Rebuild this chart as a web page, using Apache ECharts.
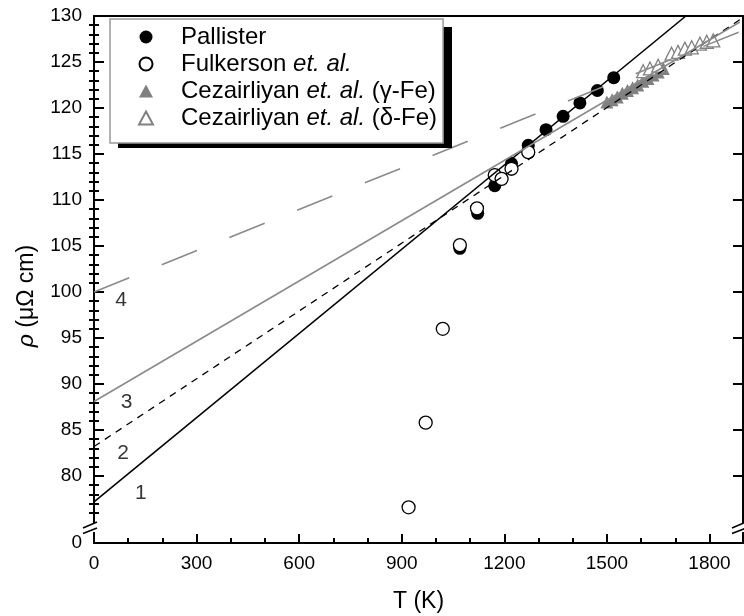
<!DOCTYPE html>
<html><head><meta charset="utf-8">
<script src="https://cdn.jsdelivr.net/npm/echarts@6/dist/echarts.min.js"></script>
<style>html,body{margin:0;padding:0;background:#fff}#c{width:744px;height:616px}</style>
</head><body><div id="c"></div>
<script>
// ---- data ----
const pallisterT   = [1070, 1122, 1172, 1221, 1270, 1322, 1372, 1421, 1472, 1520];
const pallisterRho = [104.75, 108.55, 111.55, 113.96, 115.95, 117.65, 119.1, 120.55, 121.9, 123.3];

const fulkersonT   = [920, 970, 1020, 1070, 1120, 1172, 1192, 1221, 1270];
const fulkersonRho = [76.6, 85.8, 96.0, 105.1, 109.1, 112.7, 112.3, 113.4, 115.2];

const gammaT   = [1500, 1515, 1530, 1545, 1560, 1575, 1590, 1605, 1620, 1635, 1650, 1665];
const gammaRho = [120.65, 120.9, 121.2, 121.6, 121.9, 122.2, 122.5, 122.9, 123.2, 123.6, 123.9, 124.3];

const deltaT   = [1606, 1626, 1650, 1689, 1708, 1728, 1748, 1772, 1792, 1811];
const deltaRho = [124.0, 124.3, 124.6, 125.9, 126.1, 126.45, 126.6, 127.0, 127.2, 127.35];

// fitted lines (end points)
const line1 = [[0, 77.2], [1731, 130]];
const line2 = [[0, 83.2], [1889, 129.6]];
const line3 = [[0, 88.1], [1889, 129.35]];
const line4 = [[0, 100.0], [1889, 128.3]];

const lineLabels = ['1', '2', '3', '4'];
const lineLabelT = [137, 85, 95, 79];
const lineLabelRho = [78.1, 82.5, 88.0, 99.1];

const xMajorTicks = [0, 300, 600, 900, 1200, 1500, 1800];
const xMinorTicks = [100, 200, 400, 500, 700, 800, 1000, 1100, 1300, 1400, 1600, 1700];
const yMajorTicks = [80, 85, 90, 95, 100, 105, 110, 115, 120, 125, 130];
const yMinorTicks = [];
for (let v = 76; v < 130; v++) if (v % 5 !== 0) yMinorTicks.push(v);
const yBreakValue = 74.4;   // where the axis is broken
const xRange = [0, 1898];
const yRange = [72.72, 130]; // bottom of the axis is labelled "0" (broken axis)

const legendNames = ['Pallister', 'Fulkerson et. al.', 'Cezairliyan et. al. (γ-Fe)', 'Cezairliyan et. al. (δ-Fe)'];

// ---- chart ----
const FONT = 'Liberation Sans, Arial, sans-serif';
const zip = (a, b) => a.map((v, i) => [v, b[i]]);
const chart = echarts.init(document.getElementById('c'), null, {renderer: 'canvas'});

const baseX = {type: 'value', min: xRange[0], max: xRange[1], splitLine: {show: false}};
const baseY = {type: 'value', min: yRange[0], max: yRange[1], splitLine: {show: false}};
const axisLineStyle = {color: '#000', width: 2};

// legend box layout
const LG = {left: 110, top: 19, width: 334, height: 121, shadow: 8};

const option = {
  animation: false,
  backgroundColor: '#fff',
  grid: {left: 94, right: 1, top: 16, bottom: 73, containLabel: false, outerBoundsMode: 'none'},
  xAxis: [
    Object.assign({}, baseX, {
      position: 'bottom',
      axisLine: {show: true, onZero: false, lineStyle: axisLineStyle},
      axisTick: {show: true, inside: true, length: 9, lineStyle: {color: '#000', width: 2}, customValues: xMajorTicks},
      axisLabel: {show: true, fontSize: 19, color: '#000', fontFamily: FONT, margin: 11, customValues: xMajorTicks,
        formatter: v => String(v)},
      name: 'T (K)', nameLocation: 'middle', nameGap: 47,
      nameTextStyle: {fontSize: 23, color: '#000', fontFamily: FONT}
    }),
    Object.assign({}, baseX, {
      position: 'bottom',
      axisLine: {show: false},
      axisTick: {show: true, inside: true, length: 5, lineStyle: {color: '#000', width: 2}, customValues: xMinorTicks},
      axisLabel: {show: false}
    }),
    Object.assign({}, baseX, {
      position: 'top',
      axisLine: {show: true, onZero: false, lineStyle: axisLineStyle},
      axisTick: {show: false}, axisLabel: {show: false}
    })
  ],
  yAxis: [
    Object.assign({}, baseY, {
      position: 'left',
      axisLine: {show: true, onZero: false, lineStyle: axisLineStyle},
      axisTick: {show: true, inside: true, length: 10, lineStyle: {color: '#000', width: 2}, customValues: yMajorTicks},
      axisLabel: {show: true, fontSize: 19, color: '#000', fontFamily: FONT, margin: 12,
        customValues: [yRange[0]].concat(yMajorTicks),
        formatter: v => (Math.abs(v - yRange[0]) < 1e-6 ? '0' : String(v))}
    }),
    Object.assign({}, baseY, {
      position: 'left',
      axisLine: {show: false},
      axisTick: {show: true, inside: true, length: 5, lineStyle: {color: '#000', width: 2}, customValues: yMinorTicks},
      axisLabel: {show: false}
    }),
    Object.assign({}, baseY, {
      position: 'right',
      axisLine: {show: true, onZero: false, lineStyle: axisLineStyle},
      axisTick: {show: true, inside: true, length: 10, lineStyle: {color: '#000', width: 2}, customValues: yMajorTicks},
      axisLabel: {show: false}
    }),
    Object.assign({}, baseY, {
      position: 'right',
      axisLine: {show: false},
      axisTick: {show: true, inside: true, length: 5, lineStyle: {color: '#000', width: 2}, customValues: yMinorTicks},
      axisLabel: {show: false}
    })
  ],
  legend: {
    orient: 'vertical', left: LG.left, top: LG.top,
    padding: [6, 6, 13, 28],
    itemGap: 3, itemWidth: 14, itemHeight: 13,
    backgroundColor: '#fff', borderColor: '#999', borderWidth: 1.5,
    data: legendNames,
    formatter: n => n.replace('et. al.', '{i|et. al.}'),
    textStyle: {fontSize: 24, color: '#000', fontFamily: FONT, padding: [0, 0, 0, 23],
      rich: {i: {fontSize: 24, fontStyle: 'italic', color: '#000', fontFamily: FONT}}}
  },
  series: [
    {name: legendNames[0], type: 'scatter', data: zip(pallisterT, pallisterRho), symbol: 'circle', symbolSize: 13,
      itemStyle: {color: '#000', opacity: 1}, z: 2},
    {name: legendNames[1], type: 'scatter', data: zip(fulkersonT, fulkersonRho), symbol: 'circle', symbolSize: 13,
      itemStyle: {color: '#fff', borderColor: '#000', borderWidth: 1.3, opacity: 1}, z: 2},
    {name: legendNames[2], type: 'scatter', data: zip(gammaT, gammaRho), symbol: 'triangle', symbolSize: 13,
      itemStyle: {color: '#808080', opacity: 1}, z: 2},
    {name: legendNames[3], type: 'scatter', data: zip(deltaT, deltaRho), symbol: 'triangle', symbolSize: 13,
      itemStyle: {color: '#fff', borderColor: '#808080', borderWidth: 1.3, opacity: 1}, z: 2},
    {name: 'fit1', type: 'line', data: line1, symbol: 'none', silent: true, z: 3,
      lineStyle: {color: '#000', width: 1.6}},
    {name: 'fit2', type: 'line', data: line2, symbol: 'none', silent: true, z: 3,
      lineStyle: {color: '#000', width: 1.3, type: [7, 6]}},
    {name: 'fit3', type: 'line', data: line3, symbol: 'none', silent: true, z: 3,
      lineStyle: {color: '#8a8a8a', width: 1.6}},
    {name: 'fit4', type: 'line', data: line4, symbol: 'none', silent: true, z: 3,
      lineStyle: {color: '#8a8a8a', width: 1.6, type: [38, 35]}},
    {name: 'labels', type: 'scatter', silent: true, z: 4, symbolSize: 1,
      itemStyle: {color: 'rgba(0,0,0,0)'},
      data: lineLabels.map((t, i) => [lineLabelT[i], lineLabelRho[i], t]),
      label: {show: true, position: 'inside', formatter: p => p.data[2], fontSize: 21, color: '#000', fontFamily: FONT}}
  ]
};
chart.setOption(option);

// axis breaks, legend shadow and rotated y-axis title
const yb = chart.convertToPixel({yAxisIndex: 0}, yBreakValue);
const xl = chart.convertToPixel({xAxisIndex: 0}, xRange[0]);
const xr = chart.convertToPixel({xAxisIndex: 0}, xRange[1]);
function breakMark(x) {
  return [
    {type: 'rect', shape: {x: x - 3, y: yb - 4.5, width: 6, height: 9}, style: {fill: '#fff'}, z: 100},
    {type: 'line', shape: {x1: x - 11, y1: yb + 0.5, x2: x + 3, y2: yb - 5.5}, style: {stroke: '#000', lineWidth: 1.6}, z: 101},
    {type: 'line', shape: {x1: x - 11, y1: yb + 6, x2: x + 3, y2: yb + 0.5}, style: {stroke: '#000', lineWidth: 1.6}, z: 101}
  ];
}
chart.setOption({
  graphic: breakMark(xl).concat(breakMark(xr)).concat([
    {type: 'rect', z: 3.5, silent: true,
      shape: {x: LG.left + LG.shadow, y: LG.top + LG.shadow, width: LG.width, height: LG.height},
      style: {fill: '#000'}},
    {type: 'text', x: 27, y: 296, rotation: Math.PI / 2, z: 100,
      style: {text: '{i|ρ} (μΩ cm)', fontSize: 23, fontFamily: FONT, fill: '#000', align: 'center', verticalAlign: 'middle',
        rich: {i: {fontStyle: 'italic', fontSize: 23, fontFamily: FONT, fill: '#000'}}}}
  ])
});
</script>
</body></html>
